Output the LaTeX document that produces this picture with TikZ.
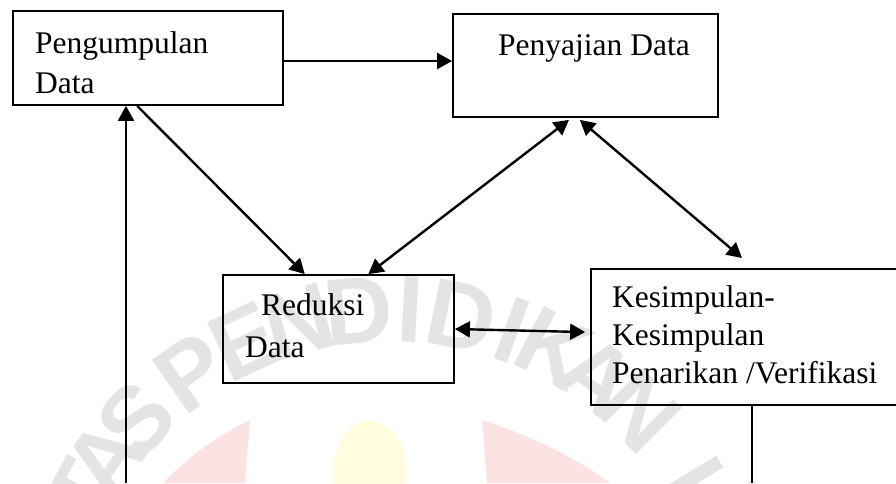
\documentclass[tikz,border=0pt]{standalone}
\usepackage{fontspec}
\setmainfont{Liberation Serif}
\newfontfamily\wmfont{Liberation Sans}
\usetikzlibrary{arrows.meta,calc}
\definecolor{wmgray}{RGB}{228,228,228}
\definecolor{wmpink}{RGB}{251,227,227}
\definecolor{wmyellow}{RGB}{255,253,222}
\tikzset{
  box/.style={draw=black, line width=1.8pt, inner sep=0pt, rectangle},
  lbl/.style={anchor=base west, inner sep=0pt, font=\fontsize{31.5}{36}\selectfont},
  conn/.style={line width=2.4pt},
  arr/.style={conn, -{Triangle[length=15pt,width=16pt]}},
  dbl/.style={conn, {Triangle[length=15pt,width=16pt]}-{Triangle[length=15pt,width=16pt]}},
  wmletter/.style={text=wmgray, font=\wmfont\bfseries\fontsize{95}{95}\selectfont, inner sep=0pt},
}
\begin{document}
\begin{tikzpicture}[x=1pt,y=-1pt]
\useasboundingbox (0,0) rectangle (896,483);
\clip (0,0) rectangle (896,483);
% watermark
\fill[wmpink] (250,420) .. controls (210,440) and (185,460) .. (163,483) -- (245,483) -- cycle;
\fill[wmpink] (482,420) .. controls (530,435) and (580,460) .. (610,483) -- (487,483) -- cycle;
\fill[wmyellow] (370,472) ellipse [x radius=37, y radius=51];
\coordinate (wc) at (392,659);
\foreach \ch/\ang [count=\i] in {T/152, A/145, S/137, P/125, E/115, N/105.5, D/95.5, I/87, D/78.5, I/70, K/62.5, A/54, N/45, I/31}
  \node[wmletter, rotate=\ang-90] (wm\i) at ($(wc)+(\ang:350pt)$) {\ch};
% boxes
\node[box, minimum width=270pt, minimum height=94pt] (A) at (148,58) {};
\node[box, minimum width=265pt, minimum height=103pt] (B) at (585.5,65.5) {};
\node[box, minimum width=231pt, minimum height=108pt] (C) at (338.5,329) {};
\node[box, minimum width=330pt, minimum height=136pt] (D) at (756,337) {};
% labels
\node[lbl] (a1) at (35,53) {Pengumpulan};
\node[lbl] (a2) at (35,93) {Data};
\node[lbl] (b1) at (498,55) {Penyajian Data};
\node[lbl] (c1) at (261,315) {Reduksi};
\node[lbl] (c2) at (245,357) {Data};
\node[lbl] (d1) at (612,307) {Kesimpulan-};
\node[lbl] (d2) at (612,345) {Kesimpulan};
\node[lbl] (d3) at (612,383) {Penarikan /Verifikasi};
% connectors
\draw[arr] ($(A.east)+(0,3)$) -- ($(B.west |- A.east)+(0,3)$);
\draw[arr] ($(A.south west)!0.46!(A.south east)$) -- ($(C.north west)!0.355!(C.north east)$);
\draw[dbl] ($(C.north west)!0.628!(C.north east)$) -- ($(B.south west)!0.438!(B.south east)+(0,2)$);
\coordinate (dtip) at (742,258);
\draw[dbl] ($(B.south west)!0.479!(B.south east)+(0,2)$) -- (dtip);
\draw[dbl] (C.east) -- ($(D.north west)+(-5,64)$);
\coordinate (lb) at (126,483);
\draw[arr] (lb) -- (lb |- A.south);
\coordinate (db) at (752,483);
\draw[conn, line width=1.8pt] (db |- D.south) -- (db);
\end{tikzpicture}
\end{document}
